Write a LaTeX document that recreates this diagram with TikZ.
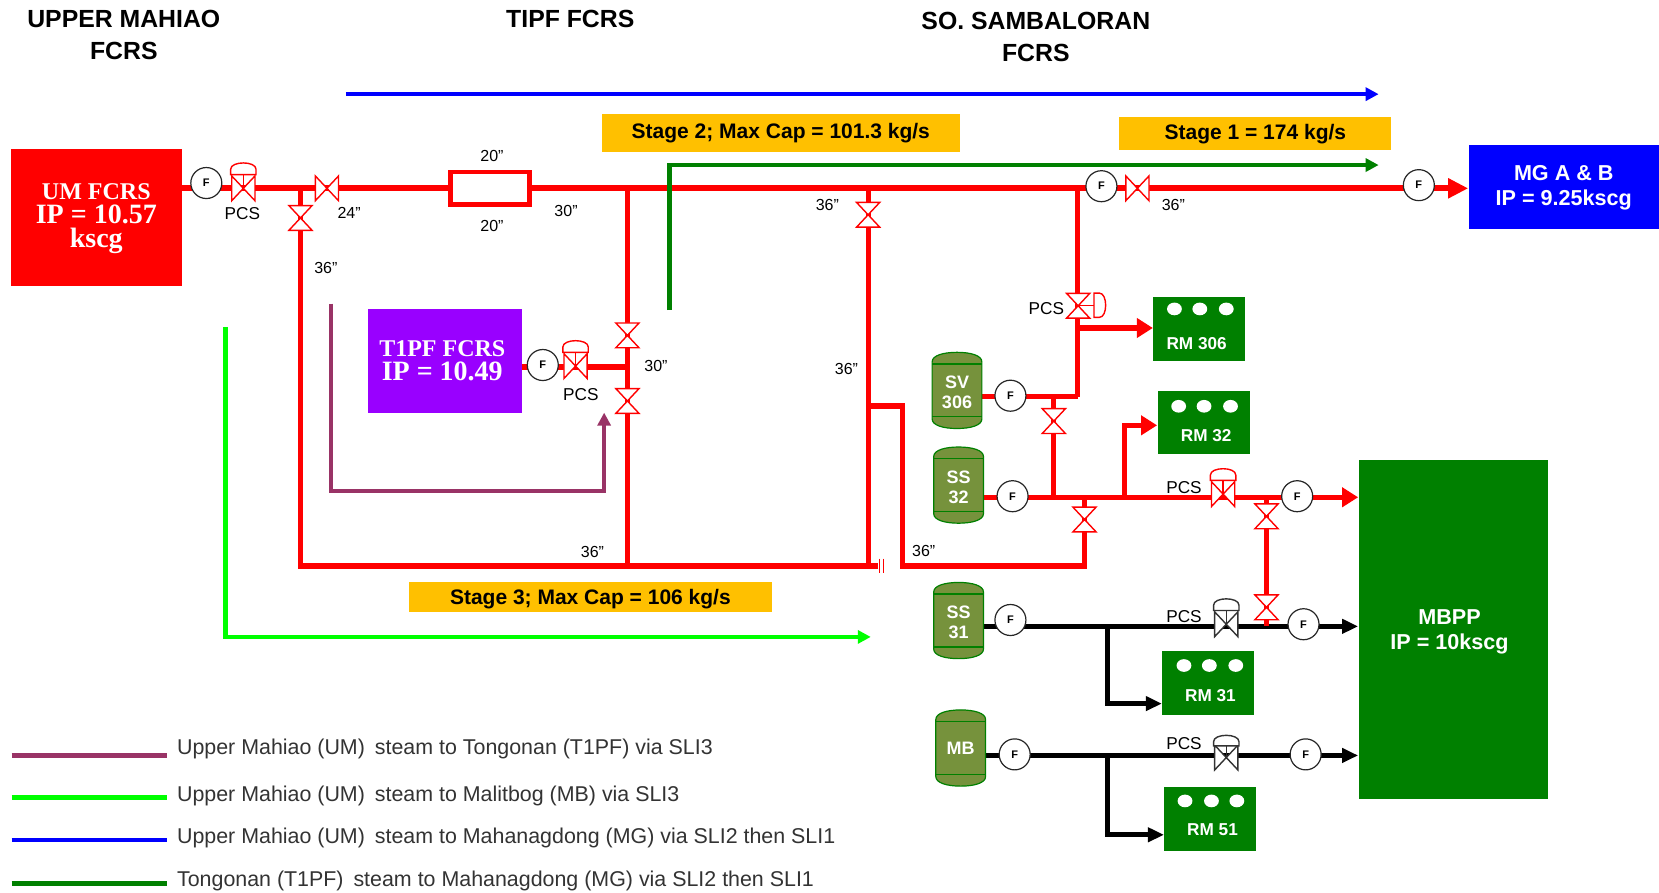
\documentclass[tikz,border=0pt]{standalone}
\usepackage{fontspec}
\setmainfont{Liberation Sans}
\newfontfamily\serifb[BoldFont={Liberation Serif Bold}]{Liberation Serif}
\usetikzlibrary{arrows.meta}
\pgfdeclarelayer{pipes}
\pgfsetlayers{pipes,main}
\definecolor{gold}{HTML}{FFC000}
\definecolor{dgreen}{HTML}{008000}
\definecolor{maroonl}{HTML}{993366}
\definecolor{tankc}{HTML}{76923C}
\definecolor{purp}{HTML}{9900FF}
\def\u{0.529pt}
\newcommand{\inchmark}{\symbol{34}}
\newcommand{\serifline}[2]{{\serifb\bfseries\fontsize{#1}{15.5}\selectfont #2}}
\tikzset{
 pipe/.style={draw=red,line width=2.9pt,line join=miter},
 thinpipe/.style={draw=red,line width=2.5pt},
 blkpipe/.style={draw=black,line width=2.5pt},
 redtip/.style={-{Triangle[length=10pt,width=9.5pt]}},
 redtips/.style={-{Triangle[length=8pt,width=9.5pt]}},
 blktip/.style={-{Triangle[length=8pt,width=7pt]}},
 routetip/.style={-{Triangle[length=6.5pt,width=6.5pt]}},
 route/.style={line width=2.3pt},
 fm/.style={circle,draw=black!85,fill=white,line width=0.6pt,minimum size=15.5pt,inner sep=0pt,font=\fontsize{5.5}{6}\selectfont\bfseries},
 vnode/.style={rectangle,inner sep=0pt,minimum width=11.2pt,minimum height=12pt},
 redv/.style={draw=red,fill=white,line width=0.7pt},
 blkv/.style={draw=black!80,fill=white,line width=0.7pt},
 pipelab/.style={font=\fontsize{8}{9}\selectfont,inner sep=0pt},
 pcslab/.style={font=\fontsize{8.6}{9}\selectfont,inner sep=0pt},
 headlab/.style={font=\fontsize{12.4}{16.2}\selectfont\bfseries,align=center,inner sep=0pt},
 stagebox/.style={rectangle,fill=gold,inner sep=0pt,font=\fontsize{10.5}{12}\selectfont\bfseries},
 rm/.style={rectangle,fill=dgreen,inner sep=0pt,minimum width=87*\u,minimum height=60*\u},
 rmtext/.style={text=white,font=\fontsize{8.6}{10}\selectfont\bfseries,inner sep=0pt},
 tanktext/.style={rectangle,inner sep=0pt,minimum width=47*\u,minimum height=70*\u,text=white,align=center,font=\fontsize{9}{10.2}\selectfont\bfseries},
 legendtext/.style={anchor=west,inner sep=0pt,font=\fontsize{10.7}{12}\selectfont,text=black!80},
 boxtext/.style={text=white,align=center,inner sep=0pt},
 sanswhite/.style={boxtext,font=\fontsize{10.8}{12.5}\selectfont\bfseries},
}
\newcommand{\hvalve}[3]{\node[vnode] (#1) at (#2) {};
 \draw[#3] (#1.north west) -- (#1.south east) -- (#1.north east) -- (#1.south west) -- cycle;}
\newcommand{\vvalve}[3]{\node[vnode] (#1) at (#2) {};
 \draw[#3] (#1.north west) -- (#1.north east) -- (#1.south west) -- (#1.south east) -- cycle;}
\newcommand{\actop}[2]{\begin{scope}[shift={(#1.center)}]
 \draw[#2] (0,0) -- (0,-13);
 \draw[#2] (-12,-13) -- (12,-13) -- (12,-18) .. controls (12,-26) and (-12,-26) .. (-12,-18) -- cycle;
 \end{scope}}
\newcommand{\tankbody}[1]{\begin{scope}[shift={(#1)}]
 \draw[draw=dgreen,fill=tankc,line width=0.6pt] (-23.5,-27) .. controls (-23.5,-33) and (-13,-36) .. (0,-36) .. controls (13,-36) and (23.5,-33) .. (23.5,-27) -- (23.5,27) .. controls (23.5,33) and (13,36) .. (0,36) .. controls (-13,36) and (-23.5,33) .. (-23.5,27) -- cycle;
 \draw[draw=dgreen,line width=0.6pt] (-23.5,-25) -- (23.5,-25) (-23.5,25) -- (23.5,25);
 \end{scope}}
\newcommand{\rmdots}[4]{\fill[white] (#1,#4) ellipse [x radius=7,y radius=6] (#2,#4) ellipse [x radius=7,y radius=6] (#3,#4) ellipse [x radius=7,y radius=6];}
\begin{document}
\begin{tikzpicture}[x=0.529pt,y=-0.529pt]
\useasboundingbox (0,0) rectangle (1568,844);
\begin{pgfonlayer}{pipes}
\fill[white] (0,0) rectangle (1568,844);
\end{pgfonlayer}

% headers
\node[headlab] (h1) at (117,33) {UPPER MAHIAO\\FCRS};
\node[headlab] (h2) at (539,18) {TIPF FCRS};
\node[headlab] (h3) at (979,35) {SO. SAMBALORAN\\FCRS};

% boxes
\node[rectangle,fill=red,inner sep=0pt,minimum width=162*\u,minimum height=129*\u] (um) at (91,205.5) {};
\node[boxtext] (umt) at (91,207) {\serifline{12}{UM FCRS}\\\serifline{14}{IP = 10.57}\\\serifline{14}{kscg}};
\node[rectangle,fill=purp,inner sep=0pt,minimum width=145*\u,minimum height=98*\u] (t1) at (420.5,341) {};
\node[boxtext] (t1t) at (418,341) {\serifline{12}{T1PF FCRS}\\\serifline{14}{IP = 10.49}};
\node[rectangle,fill=blue,inner sep=0pt,minimum width=180*\u,minimum height=79*\u] (mg) at (1478,176.5) {};
\node[sanswhite] (mgt) at (1478,177.5) {MG A \& B\\IP = 9.25kscg};
\node[rectangle,fill=dgreen,inner sep=0pt,minimum width=179*\u,minimum height=320*\u] (mbpp) at (1373.5,595) {};
\node[sanswhite] (mbppt) at (1370,597) {MBPP\\IP = 10kscg};

% stage labels
\node[stagebox,minimum width=338*\u,minimum height=36*\u] (s2) at (738,126) {Stage 2; Max Cap = 101.3 kg/s};
\node[stagebox,minimum width=257*\u,minimum height=31*\u] (s1) at (1186.5,126.5) {Stage 1 = 174 kg/s};
\node[stagebox,minimum width=343*\u,minimum height=28*\u] (s3) at (558.5,564) {};
\node[inner sep=0pt,font=\fontsize{10.5}{12}\selectfont\bfseries] (s3t) at (558,566) {Stage 3; Max Cap = 106 kg/s};

% reducer
\node[rectangle,draw=red,fill=white,line width=2.3pt,minimum width=75*\u,minimum height=31*\u,inner sep=0pt] (red) at (463,178) {};

% valves
\hvalve{v1}{230,178}{redv}\actop{v1}{redv}
\hvalve{v2}{309,178}{redv}
\vvalve{v3}{284,206}{redv}
\vvalve{v4}{593,317}{redv}
\vvalve{v5}{593,379}{redv}
\hvalve{v6}{544,346}{redv}\actop{v6}{redv}
\vvalve{v7}{820.5,203}{redv}
\hvalve{v8}{1075,178}{redv}
\vvalve{v9}{1019,289}{redv}
\draw[redv] (v9.center) -- (1034,289);
\draw[redv] (1034,277) -- (1034,300) -- (1039,300) .. controls (1047,300) and (1047,277) .. (1039,277) -- cycle;
\vvalve{v10}{996,398}{redv}
\vvalve{v11}{1025,491}{redv}
\hvalve{v12}{1156,467}{redv}\actop{v12}{redv}
\vvalve{v13}{1197,488}{redv}
\vvalve{v14}{1197,574}{redv}
\hvalve{v15}{1159,590}{blkv}\actop{v15}{blkv}
\hvalve{v16}{1159,716}{blkv}
\begin{scope}[shift={(v16.center)}]
 \draw[blkv] (0,0) -- (0,-11);
 \draw[blkv] (-12,-11) -- (12,-11) -- (12,-15) .. controls (12,-23) and (-12,-23) .. (-12,-15) -- cycle;
\end{scope}

% flow meters
\node[fm] (f1) at (195,173) {F};
\node[fm] (f2) at (513,345) {F};
\node[fm] (f3) at (1041,176) {F};
\node[fm] (f4) at (1341,175) {F};
\node[fm] (f5) at (955,374) {F};
\node[fm] (f6) at (957,469) {F};
\node[fm] (f7) at (1226,469) {F};
\node[fm] (f8) at (955,586) {F};
\node[fm] (f9) at (1232,590) {F};
\node[fm] (f10) at (959,713) {F};
\node[fm] (f11) at (1234,713) {F};

% tanks
\tankbody{904.5,369}\node[tanktext,yshift=-1pt] (sv) at (904.5,369) {SV\\306};
\tankbody{906,458.5}\node[tanktext,yshift=-1pt] (ss32) at (906,458.5) {SS\\32};
\tankbody{906,586.5}\node[tanktext,yshift=-1pt] (ss31) at (906,586.5) {SS\\31};
\tankbody{908,707}\node[tanktext] (mb) at (908,707) {MB};

% RM units
\node[rm] (rm306) at (1133.5,311) {};
\rmdots{1110}{1134}{1159}{292}
\node[rmtext] (rm306t) at (1131,325) {RM 306};
\node[rm] (rm32) at (1137.5,399.5) {};
\rmdots{1114}{1138}{1163}{384}
\node[rmtext] (rm32t) at (1140,412) {RM 32};
\node[rm] (rm31) at (1142,645.5) {};
\rmdots{1119}{1143}{1168}{629}
\node[rmtext] (rm31t) at (1144,657) {RM 31};
\node[rm] (rm51) at (1144,774) {};
\rmdots{1120}{1145}{1169}{757}
\node[rmtext] (rm51t) at (1146,784) {RM 51};

% junctions
\coordinate (j1) at (284,178);
\coordinate (j2) at (593,178);
\coordinate (j3) at (820.5,178);
\coordinate (j4) at (1018.5,178);
\coordinate (j5) at (593,347);
\coordinate (j6) at (820.5,384);
\coordinate (j7) at (1018.5,310);
\coordinate (j8) at (1018.5,375);
\coordinate (j9) at (996,375);
\coordinate (j10) at (996,470);
\coordinate (j11) at (1025,470);
\coordinate (j12) at (1063,470);
\coordinate (j13) at (1197,470);
\coordinate (j14) at (1063,402);
\coordinate (b1) at (284,535);
\coordinate (b2) at (593,535);
\coordinate (b3) at (820.5,535);
\coordinate (b4) at (830,535);
\coordinate (c1) at (853,384);
\coordinate (c2) at (853,535);
\coordinate (c3) at (1025,535);
\coordinate (k1) at (1197,592);
\coordinate (k2) at (1047,592);
\coordinate (k3) at (1047,665);
\coordinate (k4) at (1047,714);
\coordinate (k5) at (1047,789);

% pipes
\begin{pgfonlayer}{pipes}
\draw[pipe] (um.east |- j1) -- (j1) -- (red.west);
\draw[pipe,redtip] (red.east) -- (mg.west |- j1);
\draw[pipe] (j1) -- (b1) -- (b4);
\draw[thinpipe] (j2) -- (b2);
\draw[pipe] (t1.east |- j5) -- (j5);
\draw[thinpipe] (j3) -- (b3);
\draw[pipe] (j6) -- (c1) -- (c2) -- (c3) -- (j11);
\draw[thinpipe] (j4) -- (j8);
\draw[thinpipe] (j8) -- (sv.east |- j8);
\draw[pipe,redtips] (j7) -- (rm306.west |- j7);
\draw[thinpipe] (j9) -- (j10);
\draw[thinpipe,redtips] (ss32.east |- j10) -- (mbpp.west |- j10);
\draw[thinpipe,redtips] (j12) -- (j14) -- (rm32.west |- j14);
\draw[blkpipe,blktip] (ss31.east |- k1) -- (mbpp.west |- k1);
\draw[blkpipe,blktip] (k2) -- (k3) -- (rm31.west |- k3);
\draw[blkpipe,blktip] (mb.east |- k4) -- (mbpp.west |- k4);
\draw[blkpipe,blktip] (k4) -- (k5) -- (rm51.west |- k5);
\draw[thinpipe] (j13) -- (k1);
\end{pgfonlayer}
\draw[red,line width=0.7pt] (831,528) -- (831,542) (835,528) -- (835,542);

% route arrows
\coordinate (blue1) at (327,89);
\coordinate (blue2) at (1303,89);
\coordinate (dg1) at (633,293);
\coordinate (dg2) at (633,156);
\coordinate (dg3) at (1303,156);
\coordinate (ma1) at (313,287);
\coordinate (ma2) at (313,464);
\coordinate (ma3) at (571,464);
\coordinate (ma4) at (571,390);
\coordinate (li1) at (213,309);
\coordinate (li2) at (213,602);
\coordinate (li3) at (823,602);
\draw[blue,line width=1.8pt,routetip] (blue1) -- (blue2);
\draw[dgreen,route,routetip] (dg1) -- (dg2) -- (dg3);
\draw[maroonl,route,routetip] (ma1) -- (ma2) -- (ma3) -- (ma4);
\draw[green,route,routetip] (li1) -- (li2) -- (li3);

% pipe labels
\node[pcslab] (p1) at (229,202) {PCS};
\node[pcslab] (p2) at (549,373) {PCS};
\node[pcslab] (p3) at (989,292) {PCS};
\node[pcslab] (p4) at (1119,461) {PCS};
\node[pcslab] (p5) at (1119,583) {PCS};
\node[pcslab] (p6) at (1119,703) {PCS};
\node[pipelab] (d1) at (330,201) {24\inchmark};
\node[pipelab] (d2) at (465,147) {20\inchmark};
\node[pipelab] (d3) at (465,214) {20\inchmark};
\node[pipelab] (d4) at (535,199) {30\inchmark};
\node[pipelab] (d5) at (308,253) {36\inchmark};
\node[pipelab] (d6) at (620,346) {30\inchmark};
\node[pipelab] (d7) at (560,522) {36\inchmark};
\node[pipelab] (d8) at (782,194) {36\inchmark};
\node[pipelab] (d9) at (800,349) {36\inchmark};
\node[pipelab] (d10) at (1109,194) {36\inchmark};
\node[pipelab] (d11) at (873,521) {36\inchmark};

% legend
\coordinate (la1) at (11,714);\coordinate (la2) at (158,714);
\coordinate (lb1) at (11,754);\coordinate (lb2) at (158,754);
\coordinate (lc1) at (11,794);\coordinate (lc2) at (158,794);
\coordinate (ld1) at (11,835);\coordinate (ld2) at (158,835);
\draw[maroonl,route] (la1) -- (la2);
\draw[green,route] (lb1) -- (lb2);
\draw[blue,route] (lc1) -- (lc2);
\draw[dgreen,route] (ld1) -- (ld2);
\node[legendtext] (t1l) at (167,708) {Upper Mahiao (UM)\hspace{2pt} steam to Tongonan (T1PF) via SLI3};
\node[legendtext] (t2l) at (167,752) {Upper Mahiao (UM)\hspace{2pt} steam to Malitbog (MB) via SLI3};
\node[legendtext] (t3l) at (167,792) {Upper Mahiao (UM)\hspace{2pt} steam to Mahanagdong (MG) via SLI2 then SLI1};
\node[legendtext] (t4l) at (167,833) {Tongonan (T1PF)\hspace{2pt} steam to Mahanagdong (MG) via SLI2 then SLI1};
\end{tikzpicture}
\end{document}
